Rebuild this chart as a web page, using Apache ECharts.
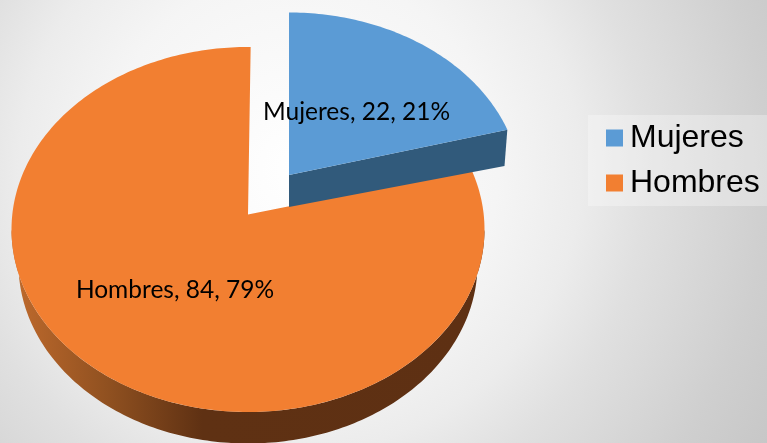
<!DOCTYPE html>
<html><head><meta charset="utf-8">
<style>html,body{margin:0;padding:0;background:#fff}#c{width:767px;height:443px}</style>
<script src="https://cdn.jsdelivr.net/npm/echarts@6/dist/echarts.min.js"></script>
</head><body><div id="c"></div>
<script>
const categories = ['Mujeres', 'Hombres'];
const values = [22, 84];
const percents = [21, 79];
const topColors = ['#5b9bd5', '#f27f31'];

const TILT = 0.082, ROT = 0.7;
const faces = {
  Mujeres: {top:{cx:289,cy:189.5,rx:232,ry:177}, bottom:{cx:289,cy:220,rx:229,ry:160}, label:[356.5,112.5]},
  Hombres: {top:{cx:248,cy:229.5,rx:236.5,ry:182.5}, bottom:{cx:248,cy:264,rx:229.5,ry:179.5}, label:[175,290.5]}
};
const total = values.reduce((a,b)=>a+b,0);
function pt(deg, f){
  const t = deg*Math.PI/180, u=Math.sin(t), v=Math.cos(t), d=1+TILT*v;
  return [f.cx+f.rx*u*Math.sqrt(1-TILT*TILT)/d, f.cy-f.ry*(v+TILT)/d];
}
function arc(a,b,f){const out=[];const n=Math.max(2,Math.ceil(Math.abs(b-a)));for(let i=0;i<=n;i++)out.push(pt(a+(b-a)*i/n,f));return out;}
function apex(f){return [f.cx,f.cy-f.ry*TILT];}
function span(i){
  let s=0;for(let k=0;k<i;k++)s+=values[k];
  return [s/total*360, (s+values[i])/total*360];
}
function render(i){
  return function(params, api){
    const name=categories[i], F=faces[name], val=api.value(0);
    const [a0,a1]=span(i); const rot=i===1?ROT:0;
    const a=a0+rot,b=a1+rot;
    const kids=[];
    if(i===0){
      kids.push({type:'polygon',shape:{points:[apex(F.top),pt(b,F.top),pt(b,F.bottom),apex(F.bottom)]},style:{fill:'#315a7b'}});
    }else{
      const s=Math.max(a,94.7),e=Math.min(b,265.3);
      const pts=arc(s,e,F.top).concat(arc(e,s,F.bottom));
      kids.push({type:'polygon',shape:{points:pts},style:{fill:new echarts.graphic.LinearGradient(17,0,480,0,[
        {offset:0,color:'#bd692c'},{offset:0.2,color:'#8f5020'},{offset:0.4,color:'#5f3113'},{offset:1,color:'#5e3013'}],true)}});
    }
    kids.push({type:'polygon',shape:{points:[apex(F.top)].concat(arc(a,b,F.top))},style:{fill:topColors[i]}});
    kids.push({type:'text',style:{text:name+', '+val+', '+percents[i]+'%',x:F.label[0],y:F.label[1],
      align:'center',verticalAlign:'middle',fill:'#000',font:'24.5px Lato'}});
    return {type:'group',children:kids};
  };
}
const chart=echarts.init(document.getElementById('c'),null,{renderer:'canvas'});
chart.setOption({
  animation:false,
  backgroundColor:new echarts.graphic.RadialGradient(300,170,550,[
    {offset:0,color:'#ffffff'},{offset:0.36,color:'#f5f5f5'},{offset:0.51,color:'#ececec'},{offset:0.63,color:'#e0e0e0'},{offset:0.85,color:'#cfcfcf'},{offset:1,color:'#c6c6c6'}],true),
  legend:{left:588,top:115,orient:'vertical',icon:'rect',itemWidth:17,itemHeight:17,itemGap:13,
    padding:[7,10,7,18],backgroundColor:'rgba(255,255,255,0.3)',
    data:categories,textStyle:{fontFamily:'Liberation Sans',fontSize:32,color:'#000',padding:[10,0,0,2]}},
  series:categories.map((n,i)=>({type:'custom',name:n,coordinateSystem:'none',z:i===0?3:2,
    itemStyle:{color:topColors[i]},data:[[values[i]]],renderItem:render(i)}))
});
</script></body></html>
